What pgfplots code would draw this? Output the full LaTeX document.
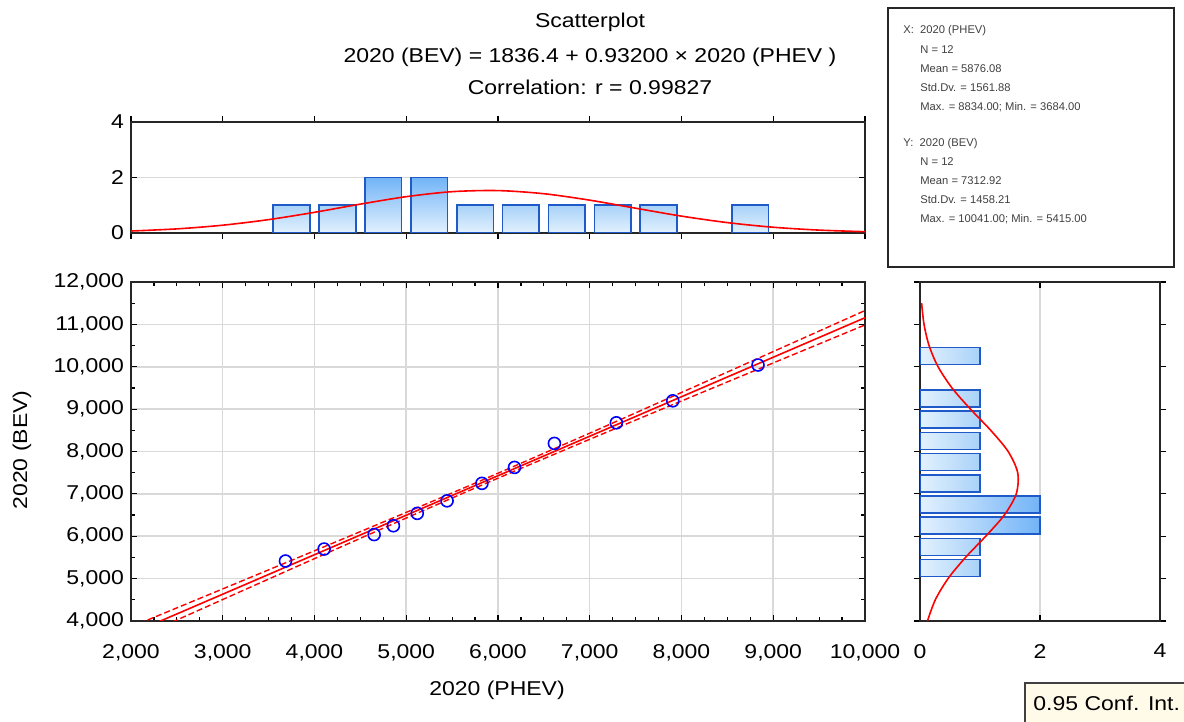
\documentclass[border=0pt]{standalone}
\usepackage{fontspec}
\setmainfont{Liberation Sans}[FakeStretch=1.15]
\newfontfamily\statfont{Liberation Sans}
\usepackage{pgfplots}
\pgfplotsset{compat=1.18}

\definecolor{gridgray}{HTML}{D9D9D9}
\definecolor{barline}{HTML}{1E5AC8}
\definecolor{barlight}{HTML}{E3F1FE}
\definecolor{barmid}{HTML}{A8D2F8}
\definecolor{bardark}{HTML}{72B4F7}
\definecolor{cibox}{HTML}{FFFBE8}

\pgfplotsset{
  panel/.style={
    scale only axis, scaled ticks=false,
    axis line style={line width=0.75pt, black!85},
    tick align=inside, major tick length=3pt, minor tick length=2pt,
    tick style={black, line width=0.6pt},
    /pgf/number format/assume math mode=true,
    /pgf/number format/1000 sep={,},
    grid style={gridgray, line width=0.75pt},
  },
}

% scatter data
\pgfplotstableread{
x y
3684 5415
4105 5698
4650 6040
4860 6248
5120 6540
5445 6836
5825 7248
6180 7625
6615 8191
7290 8677
7905 9196
8834 10041
}\pts

% fit line with 0.95 confidence band
\pgfplotstableread{
x fit lo hi
2000 3700.4 3539.7 3861.1
3000 4632.4 4507.0 4757.8
4000 5564.4 5471.6 5657.2
5000 6496.4 6429.4 6563.4
5876 7312.8 7254.9 7370.7
7000 8360.4 8288.0 8432.8
8000 9292.4 9191.9 9392.9
9000 10224.4 10090.4 10358.4
10000 11156.4 10986.7 11326.1
}\fitline

\begin{document}
\begin{tikzpicture}
\path[use as bounding box] (0,0) rectangle (592pt,361pt);

% titles
\node at (295pt,350pt) {Scatterplot};
\node at (295pt,332.5pt) {2020 (BEV) = 1836.4 + 0.93200 × 2020 (PHEV )};
\node at (295pt,317.5pt) {Correlation: r = 0.99827};

% top histogram of X
\begin{axis}[panel, at={(65.5pt,244.5pt)}, width=367pt, height=55.5pt,
  xmin=2000, xmax=10000, ymin=0, ymax=4,
  xtick={2000,3000,...,10000}, xticklabels={},
  ytick={0,2,4}, ymajorgrids,
  ybar, bar width=400, bar shift=0pt]
  \addplot[draw=barline, line width=0.8pt, bottom color=barlight, top color=barmid]
    coordinates {(3750,1) (4250,1) (5750,1) (6250,1) (6750,1) (7250,1) (7750,1) (8750,1)};
  \addplot[draw=barline, line width=0.8pt, bottom color=barlight, top color=bardark]
    coordinates {(4750,2) (5250,2)};
  \addplot[sharp plot, red, line width=0.8pt, smooth] coordinates {
    (2000,0.071) (2500,0.148) (3000,0.281) (3500,0.482) (4000,0.745)
    (4500,1.040) (5000,1.309) (5500,1.489) (6000,1.528) (6500,1.415)
    (7000,1.183) (7500,0.893) (8000,0.608) (8500,0.374) (9000,0.207)
    (9500,0.104) (10000,0.047)};
\end{axis}

% main scatterplot
\begin{axis}[panel, at={(65.5pt,50.5pt)}, width=367pt, height=169.5pt,
  xmin=2000, xmax=10000, ymin=4000, ymax=12000,
  xtick={2000,3000,...,10000}, ytick={4000,5000,...,12000},
  minor x tick num=3, minor y tick num=1,
  grid=major, clip=true,
  xticklabel style={yshift=-8pt}]
  \addplot[red, line width=0.8pt] table[x=x, y=fit] {\fitline};
  \addplot[red, line width=0.7pt, dash pattern=on 3pt off 1.5pt, smooth] table[x=x, y=lo] {\fitline};
  \addplot[red, line width=0.7pt, dash pattern=on 3pt off 1.5pt, smooth] table[x=x, y=hi] {\fitline};
  \addplot[only marks, mark=o, mark size=3pt, blue, mark options={line width=0.8pt}] table[x=x, y=y] {\pts};
\end{axis}

% right histogram of Y
\begin{axis}[panel, at={(460pt,50.5pt)}, width=120pt, height=169.5pt,
  xmin=0, xmax=4, ymin=4000, ymax=12000,
  xtick={0,2,4}, xmajorgrids,
  ytick={4000,5000,...,12000}, yticklabels={},
  xticklabel style={yshift=-8pt},
  xbar, bar width=400, bar shift=0pt]
  \addplot[draw=barline, line width=0.8pt, left color=barlight, right color=barmid]
    coordinates {(1,5250) (1,5750) (1,7250) (1,7750) (1,8250) (1,8750) (1,9250) (1,10250)};
  \addplot[draw=barline, line width=0.8pt, left color=barlight, right color=bardark]
    coordinates {(2,6250) (2,6750)};
  \addplot[sharp plot, red, line width=0.8pt, smooth] coordinates {
    (0.124,4000) (0.255,4500) (0.467,5000) (0.758,5500) (1.095,6000)
    (1.405,6500) (1.604,7000) (1.628,7500) (1.469,8000) (1.178,8500)
    (0.841,9000) (0.533,9500) (0.301,10000) (0.151,10500) (0.067,11000)
    (0.027,11500)};
\end{axis}

% axis labels
\node at (248.5pt,16pt) {2020 (PHEV)};
\node[rotate=90] at (11pt,136pt) {2020 (BEV)};

% statistics box
\draw[line width=0.75pt, black!85] (444pt,227.5pt) rectangle (587pt,357pt);
\begin{scope}[every node/.style={anchor=west, inner sep=0pt, font=\statfont\fontsize{5.6}{6}\selectfont, text=black!75}]
\node at (451.5pt,345.5pt) {X:\ \ 2020 (PHEV)};
\node at (460pt,336pt) {N = 12};
\node at (460pt,326.5pt) {Mean = 5876.08};
\node at (460pt,317pt) {Std.Dv. = 1561.88};
\node at (460pt,307.5pt) {Max. = 8834.00; Min. = 3684.00};
\node at (451.5pt,289pt) {Y:\ \ 2020 (BEV)};
\node at (460pt,280pt) {N = 12};
\node at (460pt,270.5pt) {Mean = 7312.92};
\node at (460pt,261pt) {Std.Dv. = 1458.21};
\node at (460pt,251.5pt) {Max. = 10041.00; Min. = 5415.00};
\end{scope}

% confidence interval tag
\draw[fill=cibox, draw=black!75, line width=0.75pt] (512.5pt,-1pt) rectangle (593pt,19.5pt);
\node[anchor=west, inner sep=0pt] at (516.5pt,9.5pt) {0.95 Conf. Int.};
\end{tikzpicture}
\end{document}
